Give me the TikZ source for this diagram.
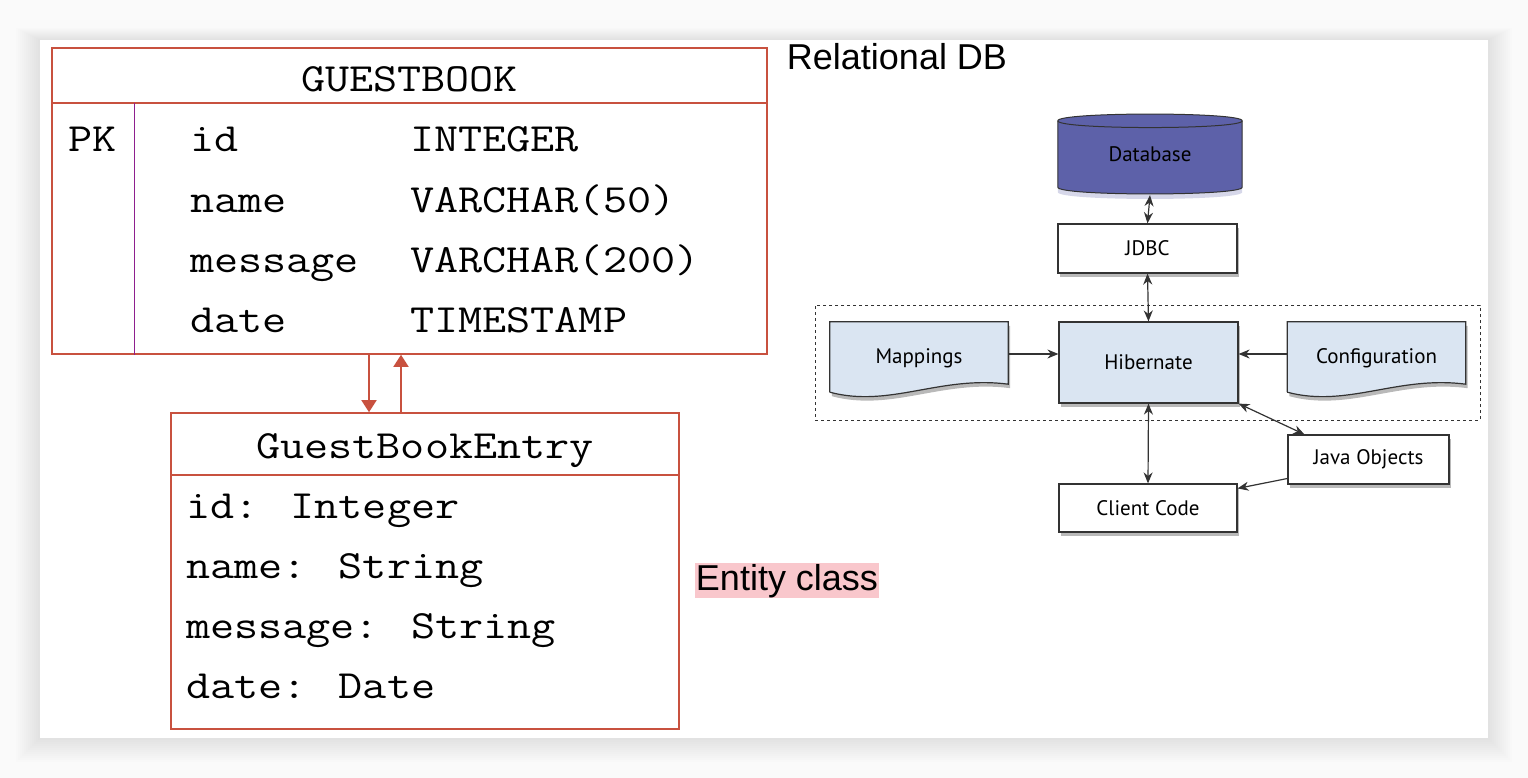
\documentclass[tikz,border=0pt]{standalone}
\usepackage{fontspec}
\usetikzlibrary{positioning,shadows,arrows.meta,backgrounds}
\newfontfamily\monofont[FakeStretch=1.17]{Latin Modern Mono}
\newfontfamily\arialfont{Liberation Sans}
\newfontfamily\diagfont{PT Sans}
\definecolor{tblred}{HTML}{C8513F}
\definecolor{pkline}{HTML}{8E1F8E}
\definecolor{dbblue}{HTML}{5D61A9}
\definecolor{hibblue}{HTML}{DAE5F2}
\definecolor{hilite}{HTML}{F9C7CC}
\definecolor{edgegray}{HTML}{333333}

\tikzset{
  tbl/.style={draw=tblred, line width=1.6pt, inner sep=0pt},
  rule/.style={draw=tblred, line width=1.6pt},
  cell/.style={anchor=base west, inner sep=0pt, font=\monofont\fontsize{40}{48}\selectfont},
  hdr/.style={anchor=base, inner sep=0pt, font=\monofont\fontsize{40}{48}\selectfont},
  caption/.style={inner sep=0pt, font=\arialfont\fontsize{36}{43}\selectfont},
  box/.style={draw=edgegray, fill=white, line width=1.2pt, inner sep=0pt,
    font=\diagfont\fontsize{21}{24}\selectfont,
    drop shadow={shadow xshift=2pt, shadow yshift=-4pt, opacity=0.55}},
  hib/.style={box, fill=hibblue},
  doc/.style={inner sep=0pt, minimum width=178pt, minimum height=72pt,
    font=\diagfont\fontsize{21}{24}\selectfont},
  docline/.style={draw=edgegray, fill=hibblue, line width=1.2pt,
    drop shadow={shadow xshift=2pt, shadow yshift=-4pt, opacity=0.55}},
  flow/.style={draw=edgegray, line width=1.2pt, -{Stealth[length=11pt,width=9pt]}},
  both/.style={flow, {Stealth[length=11pt,width=9pt]}-{Stealth[length=11pt,width=9pt]}},
  rel/.style={draw=tblred, line width=1.6pt, -{Triangle[length=12pt,width=15pt]}}
}

\begin{document}
\begin{tikzpicture}[x=1pt,y=-1pt]
\useasboundingbox (0,0) rectangle (1528,778);

% page and its soft shadow
\begin{scope}[on background layer]
\fill[white!98!black] (0,0) rectangle (1528,778);
\foreach \i in {1,...,12}
  \fill[black, opacity=0.008] (40-2*\i,40-\i) rectangle (1488+2*\i,738+2*\i);
\fill[white] (40,40) rectangle (1488,738);
\end{scope}

% table
\node[tbl, minimum width=715pt, minimum height=306pt] (guestbook) at (409.5,201) {};
\draw[rule] ([yshift=-56pt]guestbook.north west) -- ([yshift=-56pt]guestbook.north east);
\draw[pkline, line width=1.2pt] ([xshift=83pt,yshift=-56pt]guestbook.north west) -- ([xshift=83pt]guestbook.south west);
\node[hdr] (gbtitle) at (409.5,92) {GUESTBOOK};
\node[cell] (pk) at (68,152) {PK};
\node[cell] (idcol) at (190,152) {id};
\node[cell] (idtype) at (410,152) {INTEGER};
\node[cell] (namecol) at (190,212) {name};
\node[cell] (nametype) at (410,212) {VARCHAR(50)};
\node[cell] (msgcol) at (190,272) {message};
\node[cell] (msgtype) at (410,272) {VARCHAR(200)};
\node[cell] (datecol) at (190,332) {date};
\node[cell] (datetype) at (410,332) {TIMESTAMP};

% entity class
\node[tbl, minimum width=508pt, minimum height=316pt] (entry) at (425,571) {};
\draw[rule] ([yshift=-63pt]entry.north west) -- ([yshift=-63pt]entry.north east);
\node[hdr] (entrytitle) at (425,458) {GuestBookEntry};
\node[cell] (eid) at (186,518) {id: Integer};
\node[cell] (ename) at (186,578) {name: String};
\node[cell] (emsg) at (186,638) {message: String};
\node[cell] (edate) at (186,698) {date: Date};

\draw[rel] ([xshift=-40.5pt]guestbook.south) -- ([xshift=-40.5pt]guestbook.south |- entry.north);
\draw[rel] ([xshift=-8.5pt]guestbook.south |- entry.north) -- ([xshift=-8.5pt]guestbook.south);

\node[caption] (reldb) at (897,57) {Relational DB};
\node[caption, fill=hilite, inner xsep=1pt, text height=27pt, text depth=8pt] (entitycls) at (787,580.5) {Entity class};

% hibernate stack
\node[draw=edgegray, dashed, line width=0.9pt, minimum width=665pt, minimum height=115pt] (core) at (1147.5,362.5) {};
\node[box, minimum width=179pt, minimum height=49pt] (jdbc) at (1147.5,248.5) {JDBC};
\node[hib, minimum width=179pt, minimum height=81pt] (hibernate) at (1148.5,362.5) {Hibernate};
\node[doc] (mappings) at (919,358) {Mappings};
\node[doc] (config) at (1376.5,358) {Configuration};
\node[box, minimum width=161pt, minimum height=49pt] (javaobj) at (1368.5,459.5) {Java Objects};
\node[box, minimum width=178pt, minimum height=48pt] (client) at (1148,508) {Client Code};
\node[inner sep=0pt, minimum width=184pt, minimum height=66pt,
  font=\diagfont\fontsize{21}{24}\selectfont] (db) at (1150,154) {Database};

\begin{scope}[on background layer]
\draw[draw=edgegray, fill=dbblue, line width=1pt,
  drop shadow={shadow xshift=0pt, shadow yshift=-5pt, fill=dbblue!50, opacity=0.5}]
  (db.north west) -- (db.south west) .. controls +(0,9) and +(0,9) .. (db.south east)
  -- (db.north east) .. controls +(0,-9) and +(0,-9) .. (db.north west) -- cycle;
\draw[draw=edgegray, line width=1pt] (db.north west) .. controls +(0,9) and +(0,9) .. (db.north east);
\foreach \n in {mappings,config}
  \draw[docline] ([yshift=2pt]\n.south west) -- (\n.north west) -- (\n.north east)
    -- ([yshift=10pt]\n.south east) .. controls +(-68,-9) and +(60,16) .. ([yshift=2pt]\n.south west);
\end{scope}

\draw[both] ([yshift=-8pt]db.south) -- (jdbc.north);
\draw[both] (jdbc.south) -- (hibernate.north);
\draw[flow] ([yshift=4pt]mappings.east) -- ([yshift=4pt]mappings.east -| hibernate.west);
\draw[flow] ([yshift=4pt]config.west) -- ([yshift=4pt]config.west -| hibernate.east);
\draw[both] (hibernate.south) -- (client.north);
\draw[both] (hibernate.south east) -- ([xshift=17pt]javaobj.north west);
\draw[flow] ([yshift=-19pt]javaobj.west) -- ([yshift=-5pt]client.north east);
\end{tikzpicture}
\end{document}
